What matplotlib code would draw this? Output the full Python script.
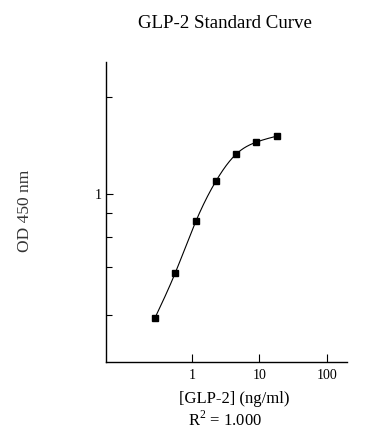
import numpy as np
import matplotlib
matplotlib.use("Agg")
import matplotlib.pyplot as plt
from matplotlib.ticker import FixedLocator, NullFormatter, NullLocator

# ---- data ----
conc = [0.28, 0.56, 1.13, 2.25, 4.5, 9.0, 18.0]          # ng/ml
od = [0.515, 0.656, 0.865, 1.074, 1.242, 1.325, 1.368]   # OD 450 nm
x_ticks = [1, 10, 100]
x_tick_labels = ["1", "10", "100"]
y_major = [1]
y_major_labels = ["1"]
y_minor = [0.522, 0.675, 0.796, 0.903, 1.694]

title = "GLP-2 Standard Curve"
xlabel = "[GLP-2] (ng/ml)"
ylabel = "OD 450 nm"
r2_text = r"R$^2$ = 1.000"

plt.rcParams['font.family'] = ['Liberation Serif', 'DejaVu Serif']
plt.rcParams['mathtext.fontset'] = 'custom'
plt.rcParams['mathtext.rm'] = 'Liberation Serif'

W, H = 388, 444
fig = plt.figure(figsize=(W / 100, H / 100), dpi=100)
ax = fig.add_axes([105.7 / W, 1 - 361.7 / H, (346.7 - 105.7) / W, (361.7 - 62) / H])

ax.set_xscale('log')
ax.set_yscale('log')
ax.set_xlim(0.0514, 199)
ax.set_ylim(0.406, 2.04)


# smooth curve: natural cubic spline in log-log space through the points
def natural_spline(xs, ys, xq):
    xs = np.asarray(xs, float)
    ys = np.asarray(ys, float)
    n = len(xs)
    h = np.diff(xs)
    A = np.zeros((n, n))
    b = np.zeros(n)
    A[0, 0] = 1
    A[-1, -1] = 1
    for i in range(1, n - 1):
        A[i, i - 1] = h[i - 1]
        A[i, i] = 2 * (h[i - 1] + h[i])
        A[i, i + 1] = h[i]
        b[i] = 3 * ((ys[i + 1] - ys[i]) / h[i] - (ys[i] - ys[i - 1]) / h[i - 1])
    c = np.linalg.solve(A, b)
    out = np.empty_like(xq)
    for k, xv in enumerate(xq):
        i = min(max(np.searchsorted(xs, xv) - 1, 0), n - 2)
        dx = xv - xs[i]
        bi = (ys[i + 1] - ys[i]) / h[i] - h[i] * (2 * c[i] + c[i + 1]) / 3
        di = (c[i + 1] - c[i]) / (3 * h[i])
        out[k] = ys[i] + bi * dx + c[i] * dx ** 2 + di * dx ** 3
    return out


lx = np.log10(conc)
ly = np.log10(od)
xq = np.linspace(lx[0], lx[-1], 300)
yq = natural_spline(lx, ly, xq)
ax.plot(10 ** xq, 10 ** yq, color='black', lw=0.8)
ax.plot(conc, od, linestyle='none', marker='s', markersize=4.3, color='black')

for s in ['top', 'right']:
    ax.spines[s].set_visible(False)
for s in ['left', 'bottom']:
    ax.spines[s].set_linewidth(1.0)

ax.xaxis.set_major_locator(FixedLocator(x_ticks))
ax.set_xticklabels(x_tick_labels)
ax.xaxis.set_minor_locator(NullLocator())
ax.yaxis.set_major_locator(FixedLocator(y_major))
ax.set_yticklabels(y_major_labels)
ax.yaxis.set_minor_locator(FixedLocator(y_minor))
ax.yaxis.set_minor_formatter(NullFormatter())

ax.tick_params(axis='x', which='major', direction='in', length=6, width=0.8, pad=5, labelsize=10)
ax.tick_params(axis='y', which='major', direction='in', length=5, width=0.8, pad=3, labelsize=10)
ax.tick_params(axis='y', which='minor', direction='in', length=4, width=0.8)

fig.text(225 / W, 1 - 28.3 / H, title, ha='center', va='baseline', fontsize=13.6)
fig.text(234 / W, 1 - 403 / H, xlabel, ha='center', va='baseline', fontsize=12)
fig.text(225 / W, 1 - 425.5 / H, r2_text, ha='center', va='baseline', fontsize=12)
fig.text(25 / W, 1 - 211 / H, ylabel, ha='center', va='center', rotation=90, fontsize=12.5, color='#333333')

fig.savefig('out.png', dpi=100)
